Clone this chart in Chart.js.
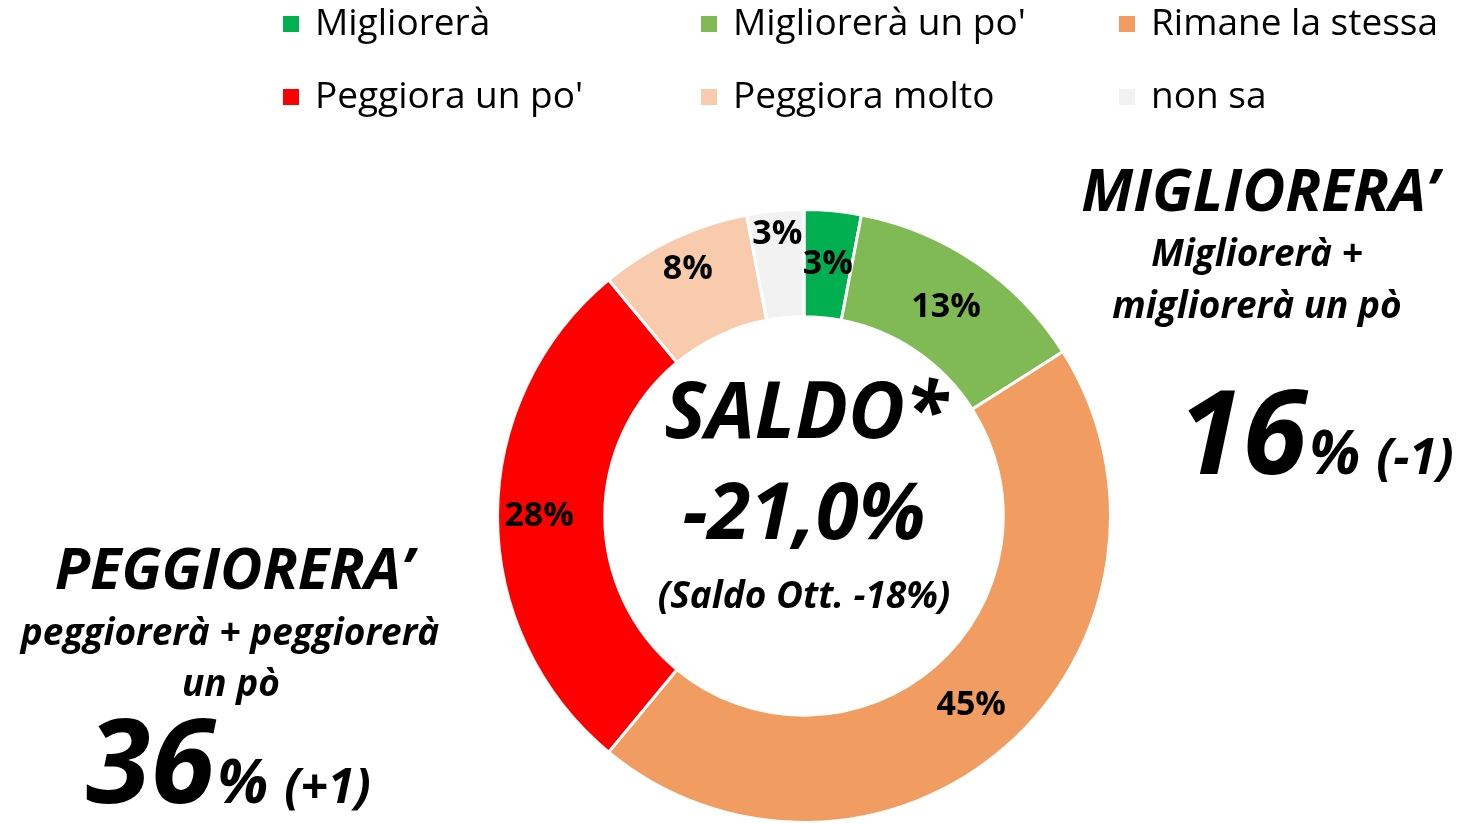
<!DOCTYPE html>
<html lang="it">
<head>
    <meta charset="UTF-8">
    <title>Migliorerà / Peggiorerà</title>
    <script src="https://cdn.jsdelivr.net/npm/chart.js"></script>
    <style>
        body {
            margin: 0;
            background: #fff;
            font-family: "Open Sans", Arial, sans-serif;
        }
        .chart-container {
            position: relative;
            width: 1460px;
            height: 824px;
        }
    </style>
</head>
<body>
    <div class="chart-container">
        <canvas id="saldoChart"></canvas>
    </div>
    <script>
        const categories = ['Migliorerà', "Migliorerà un po'", 'Rimane la stessa', "Peggiora un po'", 'Peggiora molto', 'non sa'];
        const values = [3, 13, 45, 28, 8, 3];
        const colors = ['#00B050', '#7FBA55', '#F19D62', '#FF0000', '#F8CBAD', '#F2F2F2'];
        const saldo = '-21,0%';
        const saldoPrev = '(Saldo Ott. -18%)';
        const miglioreraTot = '16';
        const miglioreraDelta = '(-1)';
        const peggioreraTot = '36';
        const peggioreraDelta = '(+1)';

        const FONT = '"Open Sans", Arial, sans-serif';

        // legend in 3 columns, drawn by hand
        const legendPlugin = {
            id: 'gridLegend',
            afterDraw(chart) {
                const ctx = chart.ctx;
                ctx.save();
                ctx.font = '37px ' + FONT;
                ctx.textBaseline = 'middle';
                ctx.textAlign = 'left';
                categories.forEach((name, i) => {
                    const x = 283 + (i % 3) * 418;
                    const y = 24 + Math.floor(i / 3) * 73;
                    ctx.fillStyle = colors[i];
                    ctx.fillRect(x, y - 8, 16, 16);
                    ctx.fillStyle = '#000';
                    ctx.fillText(name, x + 32, y);
                });
                ctx.restore();
            }
        };

        // percent labels on the ring
        const extraRadius = [0, 0, 0, 12, 20, 30];
        const sliceLabels = {
            id: 'sliceLabels',
            afterDatasetsDraw(chart) {
                const ctx = chart.ctx;
                const meta = chart.getDatasetMeta(0);
                ctx.save();
                ctx.font = 'bold 34px ' + FONT;
                ctx.fillStyle = '#000';
                ctx.textAlign = 'center';
                ctx.textBaseline = 'middle';
                meta.data.forEach((arc, i) => {
                    const p = arc.getProps(['x', 'y', 'startAngle', 'endAngle', 'innerRadius', 'outerRadius']);
                    const a = (p.startAngle + p.endAngle) / 2;
                    const r = (p.innerRadius + p.outerRadius) / 2 + extraRadius[i];
                    ctx.fillText(values[i] + '%', p.x + r * Math.cos(a), p.y + r * Math.sin(a));
                });
                ctx.restore();
            }
        };

        const annotations = {
            id: 'annotations',
            afterDraw(chart) {
                const ctx = chart.ctx;
                const meta = chart.getDatasetMeta(0);
                const cx = meta.data[0].x;
                const cy = meta.data[0].y;
                ctx.save();
                ctx.fillStyle = '#000';
                ctx.textAlign = 'center';
                ctx.textBaseline = 'alphabetic';

                // centre
                ctx.font = 'italic bold 78px ' + FONT;
                ctx.fillText('SALDO*', cx + 2, cy - 78);
                ctx.fillText(saldo, cx, cy + 23);
                ctx.font = 'italic bold 37px ' + FONT;
                ctx.fillText(saldoPrev, cx, cy + 92);

                // right block
                ctx.font = 'italic bold 59px ' + FONT;
                ctx.fillText('MIGLIORERA\u2019', 1260, 211);
                ctx.font = 'italic bold 37px ' + FONT;
                ctx.fillText('Migliorerà +', 1257, 266);
                ctx.fillText('migliorerà un pò', 1257, 318);
                drawBig(ctx, miglioreraTot, miglioreraDelta, 1178, 474, 50);

                // left block
                ctx.textAlign = 'center';
                ctx.font = 'italic bold 58px ' + FONT;
                ctx.fillText('PEGGIORERA\u2019', 234, 589);
                ctx.font = 'italic bold 37px ' + FONT;
                ctx.fillText('peggiorerà + peggiorerà', 230, 645);
                ctx.fillText('un pò', 231, 696);
                drawBig(ctx, peggioreraTot, peggioreraDelta, 86, 803, 48);

                ctx.restore();
            }
        };

        function drawBig(ctx, num, delta, x, y, deltaSize) {
            ctx.textAlign = 'left';
            ctx.font = 'italic bold 117px ' + FONT;
            ctx.fillText(num, x, y);
            let w = ctx.measureText(num).width;
            ctx.font = 'italic bold 60px ' + FONT;
            ctx.fillText('%', x + w + 2, y);
            w += ctx.measureText('%').width + 18;
            ctx.font = 'italic bold ' + deltaSize + 'px ' + FONT;
            ctx.fillText(delta, x + w, y);
        }

        const ctx = document.getElementById('saldoChart').getContext('2d');
        new Chart(ctx, {
            type: 'doughnut',
            data: {
                labels: categories,
                datasets: [{
                    data: values,
                    backgroundColor: colors,
                    borderColor: '#fff',
                    borderWidth: 3
                }]
            },
            options: {
                responsive: true,
                maintainAspectRatio: false,
                animation: false,
                cutout: '65%',
                layout: {
                    padding: { top: 208, bottom: -4, left: 494, right: 346 }
                },
                plugins: {
                    legend: { display: false },
                    tooltip: { enabled: false }
                }
            },
            plugins: [legendPlugin, sliceLabels, annotations]
        });
    </script>
</body>
</html>
